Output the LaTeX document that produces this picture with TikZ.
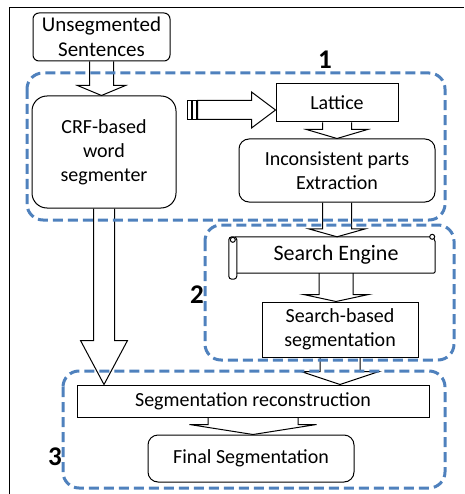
\documentclass[tikz,border=0pt]{standalone}
\usepackage{fontspec}
\setmainfont{Carlito}
\usepackage{tikz}
\usetikzlibrary{calc,positioning}
\definecolor{regionblue}{RGB}{79,129,189}

% vertical block arrow: from, to, half shaft, half head, head length
\newcommand{\blockdown}[5]{%
  \draw[blockline] let \p1=(#1), \p2=(#2) in
    (\x1-#3pt,\y1) -- (\x1-#3pt,\y2+#5pt) -- (\x1-#4pt,\y2+#5pt) -- (\x1,\y2)
    -- (\x1+#4pt,\y2+#5pt) -- (\x1+#3pt,\y2+#5pt) -- (\x1+#3pt,\y1);}

\begin{document}
\begin{tikzpicture}[x=1pt,y=-1pt,
  every node/.style={align=center,font=\fontsize{20}{24}\selectfont,inner sep=0pt},
  box/.style={draw,line width=1pt,minimum width=#1},
  blockline/.style={draw,line width=1pt,line join=miter},
  region/.style={draw=regionblue,line width=3pt,dash pattern=on 10pt off 5pt,rounded corners=16pt},
  num/.style={font=\fontsize{27}{30}\selectfont\bfseries}]
  \useasboundingbox (0,0) rectangle (464,494);
  \draw[line width=1pt] (464,8) -- (9,8) -- (9,494);

  \node[box=137pt,minimum height=48pt,rounded corners=6pt,font=\fontsize{21}{25}\selectfont] (unseg) at (101.5,37) {Unsegmented\\Sentences};
  \node[box=144pt,minimum height=112pt,rounded corners=15pt] (crf) at (104,152) {CRF-based\\word\\segmenter};
  \node[box=122pt,minimum height=38pt] (lattice) at (337,103) {Lattice};
  \node[box=196pt,minimum height=63pt,rounded corners=10pt] (incons) at (337,170.5) {Inconsistent parts\\Extraction};
  \node[minimum width=198pt,minimum height=36pt,font=\fontsize{22}{26}\selectfont] (search) at (336,255) {Search Engine};
  \node[box=156pt,minimum height=55pt] (sbased) at (340,329.5) {Search-based\\segmentation};
  \node[box=352pt,minimum height=32pt] (recon) at (253,401) {Segmentation reconstruction};
  \node[box=206pt,minimum height=47pt,rounded corners=10pt] (final) at (251,458.5) {Final Segmentation};

  % scroll around the search engine
  \draw[line width=1pt,rounded corners=2pt] ($(search.north west)+(-2,0)$) -- ($(search.north east)+(-3,0)$)
    -- ($(search.north east)+(0,3)$) -- (search.south east) -- (search.south west);
  \draw[line width=1pt,rounded corners=3pt] ($(search.north west)+(-8,0)$) rectangle ($(search.south west)+(0,6)$);
  \draw[line width=1pt] ($(search.north west)+(-4,3)$) circle (2.5);
  \draw[line width=1pt,fill=white] ($(search.north east)+(-3,0)$) circle (2.5);

  % block arrows
  \blockdown{unseg.south}{crf.north}{12}{24}{10}
  \blockdown{lattice.south}{incons.north}{14.5}{30.5}{9}
  \blockdown{incons.south}{search.north}{14.5}{28.5}{8}
  \blockdown{search.south}{sbased.north}{17}{32.5}{7}
  \blockdown{sbased.south}{recon.north}{20}{39}{13}
  \blockdown{crf.south}{recon.north}{10.5}{23.5}{44}
  \blockdown{recon.south}{final.north}{45}{63.5}{10}

  % striped arrow to the lattice
  \coordinate (tail) at ($(crf.east)+(11,-42)$);
  \coordinate (tip) at ([yshift=-7pt]lattice.west);
  \draw[line width=1pt] (tail) ++(0,-9.5) rectangle ++(3.7,19.5);
  \draw[line width=1pt] (tail) ++(5.3,-9.5) rectangle ++(3.4,19.5);
  \draw[blockline] let \p1=(tail), \p2=(tip) in
    (\x1+10pt,\y2+9.5pt) -- (\x2-24pt,\y2+9.5pt) -- (\x2-24pt,\y2+18pt) -- (\x2,\y2)
    -- (\x2-24pt,\y2-18pt) -- (\x2-24pt,\y2-9.5pt) -- (\x1+10pt,\y2-9.5pt) -- cycle;

  % dashed regions
  \draw[region] (27,73) rectangle (445,220);
  \draw[region] (205,225) rectangle (454,360);
  \draw[region] (63,371) rectangle (445,488);
  \node[num] (n1) at (325,60) {1};
  \node[num] (n2) at (197,295) {2};
  \node[num] (n3) at (55,457) {3};
\end{tikzpicture}
\end{document}
